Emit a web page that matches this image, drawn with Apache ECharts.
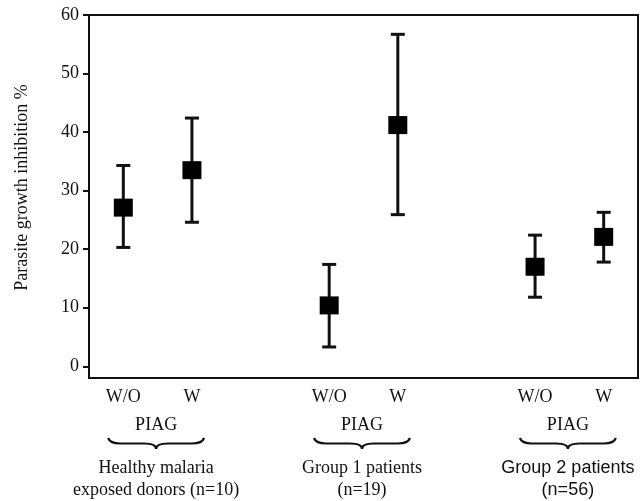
<!DOCTYPE html>
<html>
<head>
<meta charset="utf-8">
<script src="https://cdn.jsdelivr.net/npm/echarts@6/dist/echarts.min.js"></script>
<style>html,body{margin:0;padding:0;background:#fff}#c{width:643px;height:501px}</style>
</head>
<body>
<div id="c"></div>
<script>
const categories = ['W/O', 'W', '', 'W/O', 'W', '', 'W/O', 'W'];
const meanValues = [27.1, 33.5, null, 10.4, 41.2, null, 17.0, 22.1];
const lowValues  = [20.3, 24.6, null, 3.3, 25.9, null, 11.8, 17.8];
const highValues = [34.3, 42.4, null, 17.4, 56.7, null, 22.4, 26.3];
const yTicks = [0, 10, 20, 30, 40, 50, 60];
const yAxisName = 'Parasite growth inhibition %';
const groupTag = 'PIAG';
const groupMembers = [[0, 1], [3, 4], [6, 7]];
const groupNames = [
  ['Healthy malaria', 'exposed donors (n=10)'],
  ['Group 1 patients', '(n=19)'],
  ['Group 2 patients', '(n=56)']
];
const groupFonts = ['Liberation Serif, Times New Roman, serif', 'Liberation Serif, Times New Roman, serif', 'Liberation Sans, Arial, sans-serif'];

const SERIF = 'Liberation Serif, Times New Roman, serif';
const INK = '#111';

const meanData = [];
const barData = [];
categories.forEach((c, i) => {
  if (meanValues[i] != null) {
    meanData.push([i, meanValues[i]]);
    barData.push([i, lowValues[i], highValues[i]]);
  }
});
const groupData = groupMembers.map((m, g) => [m[0], m[1], g]);

const chart = echarts.init(document.getElementById('c'), null, {renderer: 'canvas'});
chart.setOption({
  backgroundColor: '#fff',
  animation: false,
  grid: {left: 89, right: 5, top: 15, bottom: 123, show: true, borderColor: INK, borderWidth: 2, backgroundColor: 'transparent'},
  xAxis: {
    type: 'category',
    data: categories,
    boundaryGap: true,
    axisLine: {onZero: false, lineStyle: {color: INK, width: 2}},
    axisTick: {alignWithLabel: true, length: 6, lineStyle: {color: INK, width: 2},
      interval: function (idx, val) { return val !== ''; }},
    axisLabel: {interval: 0, margin: 10, color: INK, fontFamily: SERIF, fontSize: 18},
    splitLine: {show: false}
  },
  yAxis: {
    type: 'value',
    min: -2,
    max: 60,
    name: yAxisName,
    nameLocation: 'middle',
    nameGap: 58,
    nameTextStyle: {color: INK, fontFamily: SERIF, fontSize: 18, padding: [0, 0, 0, 18]},
    axisLine: {show: true, lineStyle: {color: INK, width: 2}},
    axisTick: {show: true, length: 6, lineStyle: {color: INK, width: 2}, customValues: yTicks},
    axisLabel: {margin: 10, color: INK, fontFamily: SERIF, fontSize: 18, customValues: yTicks},
    splitLine: {show: false}
  },
  series: [
    {
      type: 'custom',
      data: barData,
      clip: false,
      renderItem: function (params, api) {
        const x = api.value(0);
        const lo = api.coord([x, api.value(1)]);
        const hi = api.coord([x, api.value(2)]);
        const hw = 7;
        const st = {stroke: INK, lineWidth: 3};
        return {type: 'group', children: [
          {type: 'line', shape: {x1: lo[0], y1: lo[1], x2: hi[0], y2: hi[1]}, style: st},
          {type: 'line', shape: {x1: lo[0] - hw, y1: lo[1], x2: lo[0] + hw, y2: lo[1]}, style: st},
          {type: 'line', shape: {x1: hi[0] - hw, y1: hi[1], x2: hi[0] + hw, y2: hi[1]}, style: st}
        ]};
      }
    },
    {
      type: 'scatter',
      data: meanData,
      symbol: 'rect',
      symbolSize: [19, 18],
      itemStyle: {color: '#000', opacity: 1},
      z: 5
    },
    {
      type: 'custom',
      data: groupData,
      clip: false,
      silent: true,
      renderItem: function (params, api) {
        const a = api.coord([api.value(0), -2]);
        const b = api.coord([api.value(1), -2]);
        const g = api.value(2);
        const cx = (a[0] + b[0]) / 2 - 1.5;
        const base = a[1];
        const w = 48, y0 = base + 60, h = 11, r = 12;
        const ym = y0 + h / 2;
        const path = 'M' + (cx - w) + ' ' + y0 +
          ' Q' + (cx - w + 2) + ' ' + ym + ' ' + (cx - w + r) + ' ' + ym +
          ' L' + (cx - r) + ' ' + ym +
          ' Q' + cx + ' ' + ym + ' ' + cx + ' ' + (y0 + h) +
          ' Q' + cx + ' ' + ym + ' ' + (cx + r) + ' ' + ym +
          ' L' + (cx + w - r) + ' ' + ym +
          ' Q' + (cx + w - 2) + ' ' + ym + ' ' + (cx + w) + ' ' + y0;
        const font = groupFonts[g];
        return {type: 'group', children: [
          {type: 'text', style: {text: groupTag, x: cx, y: base + 47, align: 'center', verticalAlign: 'middle', fill: INK, font: '18px ' + SERIF}},
          {type: 'path', shape: {pathData: path}, style: {stroke: INK, lineWidth: 2.2, fill: null}},
          {type: 'text', style: {text: groupNames[g][0], x: cx, y: base + 90, align: 'center', verticalAlign: 'middle', fill: INK, font: '18px ' + font}},
          {type: 'text', style: {text: groupNames[g][1], x: cx, y: base + 112, align: 'center', verticalAlign: 'middle', fill: INK, font: '18px ' + font}}
        ]};
      }
    }
  ]
});
</script>
</body>
</html>
